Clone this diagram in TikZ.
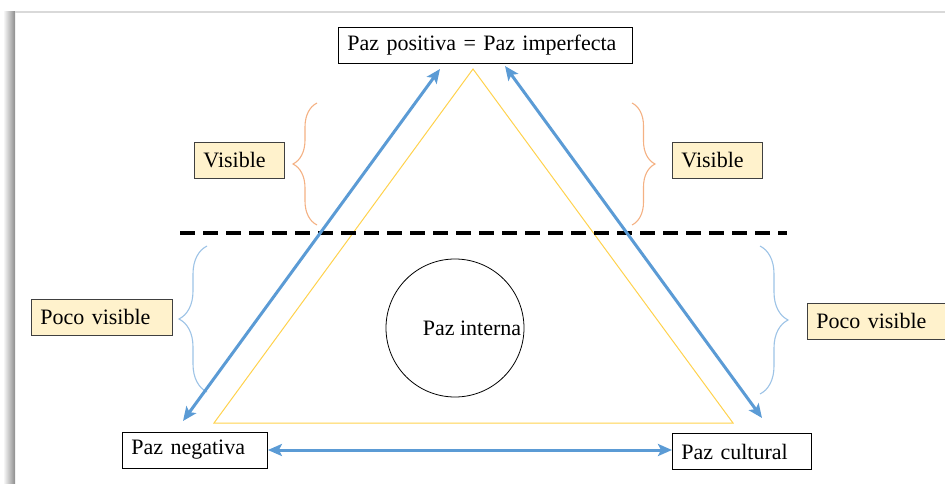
\documentclass[tikz,border=0pt]{standalone}
\usepackage{fontspec}
\setmainfont{Liberation Serif}
\usetikzlibrary{arrows.meta,decorations.pathreplacing,calc,positioning}
\definecolor{arrowblue}{HTML}{5B9BD5}
\definecolor{braceblue}{HTML}{9DC3E6}
\definecolor{braceorange}{HTML}{F4B183}
\definecolor{trigold}{HTML}{FFD24D}
\definecolor{labelfill}{HTML}{FFF2CC}
\tikzstyle{arrow} = [line width=3pt, arrowblue, {Stealth[length=14pt,width=12pt,inset=3pt]}-{Stealth[length=14pt,width=12pt,inset=3pt]}]

\begin{document}
\begin{tikzpicture}[x=1pt,y=-1pt]
\tikzset{box/.style={draw=black,line width=0.9pt,fill=white,anchor=west,align=left,
  inner xsep=9pt,inner ysep=0pt,minimum height=36pt,font=\fontsize{22}{26}\selectfont},
  tag/.style={box,draw=black!75,fill=labelfill},
  brace/.style={decorate,line width=1.1pt,decoration={brace,amplitude=#1}}}
\useasboundingbox (0,0) rectangle (945,484);

% frame of the slide
\shade[left color=white,right color=black!45] (3,12) rectangle (15,484);
\draw[black!15,line width=2.5pt] (15,12) -- (945,12);

% triangle and circle
\draw[trigold,line width=1pt] (473,69) -- (733,423) -- (214,423) -- cycle;
\node[circle,draw,line width=0.8pt,minimum size=138pt] (interna) at (455,328) {};
\node[font=\fontsize{22}{26}\selectfont] (internatxt) at (472,328) {Paz interna};

% the three corners
\node[box,text width=276pt] (pos) at (338,45) {Paz positiva = Paz imperfecta};
\node[box,text width=127pt] (neg) at (122,450) {Paz negativa};
\node[box,text width=121pt] (cul) at (672,451.5) {Paz cultural};

% dashed line
\draw[line width=3.5pt,dash pattern=on 15pt off 8pt] (180,233) -- (787,233);

% labels
\node[tag,text width=72pt] (visl) at (194,160) {Visible};
\node[tag,text width=72pt] (visr) at (672,160) {Visible};
\node[tag,text width=123pt] (pocol) at (31,317) {Poco visible};
\node[tag,text width=132pt] (pocor) at (807,321) {Poco visible};

% braces
\draw[brace=24pt,braceorange] (317,225) -- (317,103);
\draw[brace=23pt,braceorange] (632,103) -- (632,225);
\draw[brace=28pt,braceblue] (207,392) -- (207,246);
\draw[brace=28pt,braceblue] (760,246) -- (760,394);

% arrows
\coordinate (negtop) at (183,421);
\coordinate (postl) at (440,69);
\coordinate (postr) at (505,66);
\coordinate (cultop) at (762,418);
\draw[arrow] (negtop) -- (postl);
\draw[arrow] (cultop) -- (postr);
\draw[arrow] (neg.east) -- (neg.east -| cul.west);
\end{tikzpicture}
\end{document}
